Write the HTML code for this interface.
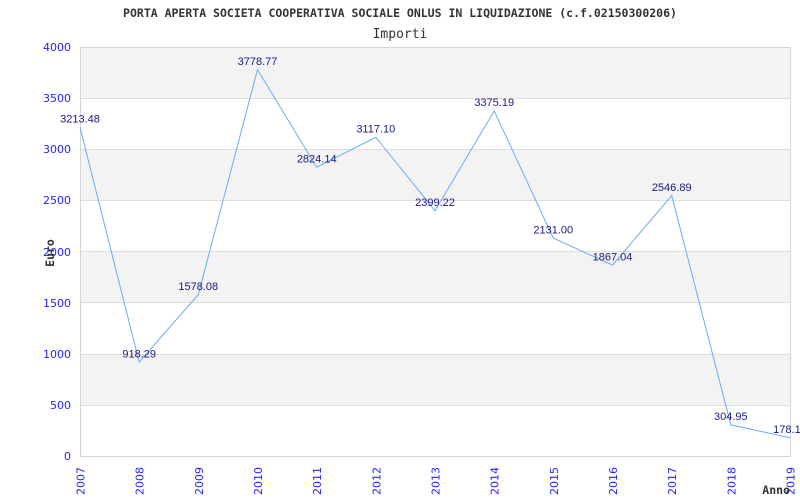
<!DOCTYPE html>
<html><head><meta charset="utf-8"><style>
html,body{margin:0;padding:0;background:#fff;}
svg{display:block;}
</style></head><body>
<svg width="800" height="500" viewBox="0 0 800 500" xmlns="http://www.w3.org/2000/svg">
<rect width="800" height="500" fill="#fff"/>
<!-- bands -->
<rect x="80" y="47" width="710" height="51.1" fill="#f3f3f3"/>
<rect x="80" y="149.3" width="710" height="51.1" fill="#f3f3f3"/>
<rect x="80" y="251.5" width="710" height="51.1" fill="#f3f3f3"/>
<rect x="80" y="353.8" width="710" height="51.1" fill="#f3f3f3"/>
<!-- grid -->
<g stroke="#dddddd" stroke-width="1">
<line x1="80" y1="98.5" x2="790" y2="98.5"/>
<line x1="80" y1="149.5" x2="790" y2="149.5"/>
<line x1="80" y1="200.5" x2="790" y2="200.5"/>
<line x1="80" y1="251.5" x2="790" y2="251.5"/>
<line x1="80" y1="302.5" x2="790" y2="302.5"/>
<line x1="80" y1="354.5" x2="790" y2="354.5"/>
<line x1="80" y1="405.5" x2="790" y2="405.5"/>
</g>
<rect x="80.5" y="47.5" width="710" height="409" fill="none" stroke="#d4d4d4" stroke-width="1"/>
<!-- y labels -->
<g font-family="DejaVu Sans, sans-serif" font-size="11" fill="#2222ff" text-anchor="end">
<text x="71" y="51">4000</text>
<text x="71" y="102">3500</text>
<text x="71" y="153">3000</text>
<text x="71" y="204">2500</text>
<text x="71" y="256">2000</text>
<text x="71" y="307">1500</text>
<text x="71" y="358">1000</text>
<text x="71" y="409">500</text>
<text x="71" y="460">0</text>
</g>
<!-- x labels -->
<g font-family="DejaVu Sans, sans-serif" font-size="11" fill="#2222ff" text-anchor="end">
<text transform="translate(84.5,467) rotate(-90)">2007</text>
<text transform="translate(143.7,467) rotate(-90)">2008</text>
<text transform="translate(202.8,467) rotate(-90)">2009</text>
<text transform="translate(262,467) rotate(-90)">2010</text>
<text transform="translate(321.2,467) rotate(-90)">2011</text>
<text transform="translate(380.3,467) rotate(-90)">2012</text>
<text transform="translate(439.5,467) rotate(-90)">2013</text>
<text transform="translate(498.7,467) rotate(-90)">2014</text>
<text transform="translate(557.8,467) rotate(-90)">2015</text>
<text transform="translate(617,467) rotate(-90)">2016</text>
<text transform="translate(676.2,467) rotate(-90)">2017</text>
<text transform="translate(735.3,467) rotate(-90)">2018</text>
<text transform="translate(794.5,467) rotate(-90)">2019</text>
</g>
<!-- titles -->
<text x="400" y="17" font-family="DejaVu Sans Mono, Liberation Mono, monospace" font-weight="bold" font-size="11.5" fill="#333" text-anchor="middle">PORTA APERTA SOCIETA COOPERATIVA SOCIALE ONLUS IN LIQUIDAZIONE (c.f.02150300206)</text>
<text x="400" y="38" font-family="DejaVu Sans Mono, Liberation Mono, monospace" font-size="13" fill="#333" text-anchor="middle">Importi</text>
<text transform="translate(54,253) rotate(-90)" font-family="DejaVu Sans Mono, Liberation Mono, monospace" font-weight="bold" font-size="11.5" fill="#333" text-anchor="middle">Euro</text>
<text x="790" y="494" font-family="DejaVu Sans Mono, Liberation Mono, monospace" font-weight="bold" font-size="11.5" fill="#333" text-anchor="end">Anno</text>
<!-- series -->
<polyline fill="none" stroke="#6eaaf5" stroke-width="1" points="80,127.4 139.2,362.1 198.3,294.6 257.5,69.6 316.7,167.2 375.8,137.3 435,210.7 494.2,110.9 553.3,238.1 612.5,265.1 671.7,195.6 730.8,424.8 790,437.8"/>
<!-- data labels -->
<g font-family="Liberation Sans, Arial, sans-serif" font-size="11" fill="#1a1a80" text-anchor="middle">
<text x="80" y="122.5">3213.48</text>
<text x="139.2" y="357.5">918.29</text>
<text x="198.3" y="290">1578.08</text>
<text x="257.5" y="65">3778.77</text>
<text x="316.7" y="162.5">2824.14</text>
<text x="375.8" y="132.5">3117.10</text>
<text x="435" y="206">2399.22</text>
<text x="494.2" y="106">3375.19</text>
<text x="553.3" y="233.5">2131.00</text>
<text x="612.5" y="260.5">1867.04</text>
<text x="671.7" y="191">2546.89</text>
<text x="730.8" y="420">304.95</text>
<text x="790" y="433">178.19</text>
</g>
</svg>
</body></html>
